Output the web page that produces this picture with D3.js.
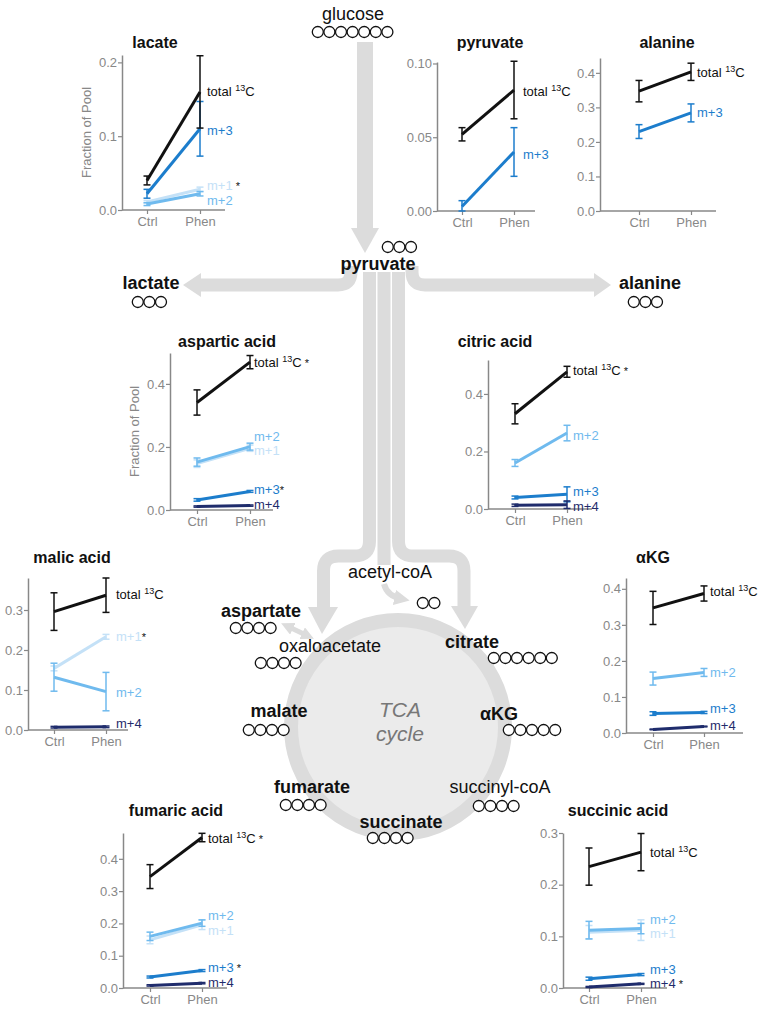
<!DOCTYPE html>
<html>
<head>
<meta charset="utf-8">
<script src="https://cdn.jsdelivr.net/npm/d3@7"></script>
<style>
  body { margin: 0; background: #fff; }
  text { font-family: "Liberation Sans", Arial, Helvetica, sans-serif; }
</style>
</head>
<body>
<div id="figure"></div>
<script>
// groups and series
const groups = ["Ctrl", "Phen"];
const seriesOrder = ["m+1", "m+2", "m+3", "m+4", "total"];
const seriesColors = { "total": "#111111", "m+1": "#c4e1f7", "m+2": "#6fbaee", "m+3": "#1c7dcc", "m+4": "#1f2c6c" };

// rows: [series, Ctrl mean, Ctrl err, Phen mean, Phen err, label value, star]
const lacate = [
  ["total", 0.040, 0.006, 0.160, 0.049, 0.161, ""],
  ["m+3", 0.022, 0.006, 0.110, 0.037, 0.108, ""],
  ["m+1", 0.011, 0.002, 0.028, 0.003, 0.033, " *"],
  ["m+2", 0.008, 0.002, 0.022, 0.003, 0.0135, ""]
];
const pyruvate = [
  ["total", 0.052, 0.0045, 0.082, 0.0195, 0.081, ""],
  ["m+3", 0.003, 0.004, 0.040, 0.0165, 0.038, ""]
];
const alanine = [
  ["total", 0.347, 0.031, 0.403, 0.025, 0.402, ""],
  ["m+3", 0.230, 0.020, 0.284, 0.026, 0.284, ""]
];
const asparticAcid = [
  ["total", 0.341, 0.040, 0.469, 0.021, 0.467, " *"],
  ["m+2", 0.152, 0.013, 0.201, 0.011, 0.234, ""],
  ["m+1", 0.147, 0.012, 0.196, 0.010, 0.188, ""],
  ["m+3", 0.032, 0.004, 0.059, 0.003, 0.064, "*"],
  ["m+4", 0.011, 0.002, 0.014, 0.002, 0.018, ""]
];
const citricAcid = [
  ["total", 0.331, 0.035, 0.477, 0.019, 0.480, " *"],
  ["m+2", 0.160, 0.012, 0.264, 0.027, 0.257, ""],
  ["m+3", 0.040, 0.005, 0.051, 0.026, 0.060, ""],
  ["m+4", 0.013, 0.004, 0.015, 0.013, 0.010, ""]
];
const malicAcid = [
  ["total", 0.296, 0.047, 0.337, 0.043, 0.338, ""],
  ["m+1", 0.154, 0.006, 0.233, 0.006, 0.233, "*"],
  ["m+2", 0.132, 0.035, 0.096, 0.048, 0.095, ""],
  ["m+4", 0.007, 0.002, 0.008, 0.002, 0.017, ""]
];
const alphaKG = [
  ["total", 0.347, 0.046, 0.387, 0.021, 0.392, ""],
  ["m+2", 0.151, 0.018, 0.168, 0.011, 0.169, ""],
  ["m+3", 0.054, 0.005, 0.057, 0.003, 0.067, ""],
  ["m+4", 0.010, 0.001, 0.018, 0.001, 0.022, ""]
];
const fumaricAcid = [
  ["total", 0.345, 0.037, 0.466, 0.013, 0.464, " *"],
  ["m+2", 0.160, 0.013, 0.201, 0.010, 0.224, ""],
  ["m+1", 0.149, 0.012, 0.196, 0.015, 0.179, ""],
  ["m+3", 0.034, 0.003, 0.054, 0.003, 0.063, " *"],
  ["m+4", 0.008, 0.002, 0.015, 0.002, 0.018, ""]
];
const succinicAcid = [
  ["total", 0.235, 0.036, 0.263, 0.036, 0.263, ""],
  ["m+2", 0.112, 0.017, 0.115, 0.010, 0.133, ""],
  ["m+1", 0.108, 0.013, 0.112, 0.020, 0.105, ""],
  ["m+3", 0.018, 0.003, 0.026, 0.002, 0.036, ""],
  ["m+4", 0.002, 0.001, 0.008, 0.001, 0.008, " *"]
];

// metabolites on the pathway: [name, bold, label x, label baseline, carbons, carbon left x, carbon y]
const metabolites = [
  ["glucose", false, 353, 20, 7, 312, 32],
  ["pyruvate", true, 378, 270, 3, 382, 247],
  ["lactate", true, 151, 289, 3, 132, 302],
  ["alanine", true, 650, 289, 3, 628, 302],
  ["acetyl-coA", false, 390, 578, 2, 417, 603],
  ["aspartate", true, 261, 617, 4, 230, 628],
  ["oxaloacetate", false, 330, 652, 4, 255, 663],
  ["citrate", true, 472, 648, 6, 488, 658],
  ["malate", true, 279, 717, 4, 243, 730],
  ["αKG", true, 499, 720, 5, 503, 730],
  ["fumarate", true, 312, 793, 4, 280, 805],
  ["succinyl-coA", false, 500, 793, 4, 473, 806],
  ["succinate", true, 401, 828, 4, 367, 838]
];

const panels = [
  { title: "lacate", rows: lacate, ax: 122, y0: 210, yTop: 55, yMax: 0.21, ticks: [0, 0.1, 0.2], fmt: ".1f", cx: 25, px: 78, xEnd: 103, ldx: 7, tx: 155, ty: 48, ylab: true },
  { title: "pyruvate", rows: pyruvate, ax: 437, y0: 211, yTop: 62, yMax: 0.101, ticks: [0, 0.05, 0.10], fmt: ".2f", cx: 25, px: 77, xEnd: 98, ldx: 9, tx: 490, ty: 48 },
  { title: "alanine", rows: alanine, ax: 600, y0: 211, yTop: 58, yMax: 0.443, ticks: [0, 0.1, 0.2, 0.3, 0.4], fmt: ".1f", cx: 39, px: 91, xEnd: 116, ldx: 6, tx: 667, ty: 48 },
  { title: "aspartic acid", rows: asparticAcid, ax: 170, y0: 510, yTop: 353, yMax: 0.498, ticks: [0, 0.2, 0.4], fmt: ".1f", cx: 27, px: 80, xEnd: 103, ldx: 4, tx: 227, ty: 347, ylab: true },
  { title: "citric acid", rows: citricAcid, ax: 488, y0: 509, yTop: 360, yMax: 0.518, ticks: [0, 0.2, 0.4], fmt: ".1f", cx: 27, px: 79, xEnd: 104, ldx: 6, tx: 495, ty: 347 },
  { title: "malic acid", rows: malicAcid, ax: 28, y0: 730, yTop: 578, yMax: 0.38, ticks: [0, 0.1, 0.2, 0.3], fmt: ".1f", cx: 26, px: 78, xEnd: 100, ldx: 10, tx: 72, ty: 563 },
  { title: "αKG", rows: alphaKG, ax: 626, y0: 733, yTop: 578, yMax: 0.43, ticks: [0, 0.1, 0.2, 0.3, 0.4], fmt: ".1f", cx: 27, px: 78, xEnd: 117, ldx: 6, tx: 653, ty: 563 },
  { title: "fumaric acid", rows: fumaricAcid, ax: 123, y0: 988, yTop: 833, yMax: 0.48, ticks: [0, 0.1, 0.2, 0.3, 0.4], fmt: ".1f", cx: 27, px: 79, xEnd: 104, ldx: 6, tx: 176, ty: 816 },
  { title: "succinic acid", rows: succinicAcid, ax: 563, y0: 988, yTop: 833, yMax: 0.30, ticks: [0, 0.1, 0.2, 0.3], fmt: ".1f", cx: 26, px: 78, xEnd: 104, ldx: 9, tx: 618, ty: 816 }
];

const width = 759, height = 1009;
const bandColor = "#dcdcdc";

const svg = d3.select("#figure")
  .append("svg")
  .attr("width", width)
  .attr("height", height);

svg.append("rect").attr("width", width).attr("height", height).attr("fill", "#fff");

// ---- pathway background ----
const path = svg.append("g");

// TCA cycle ring
path.append("circle")
  .attr("cx", 398).attr("cy", 727).attr("r", 107)
  .attr("fill", "#ebebeb")
  .attr("stroke", bandColor)
  .attr("stroke-width", 14);

// glucose -> pyruvate
path.append("rect").attr("x", 357).attr("y", 42).attr("width", 16).attr("height", 187).attr("fill", bandColor);
path.append("polygon").attr("points", "351,228 379,228 365,253").attr("fill", bandColor);

// branches (stroked bands) and their heads
const bands = [
  "M351,266 V272 Q351,285 338,285 H200",
  "M412,266 V272 Q412,285 425,285 H595",
  "M369.5,272 V541 Q369.5,556 354.5,556 H338.5 Q323.5,556 323.5,571 V608",
  "M384,272 V565",
  "M398.5,272 V541 Q398.5,556 413.5,556 H449 Q464,556 464,571 V607"
];
path.selectAll(".band")
  .data(bands)
  .join("path")
  .attr("class", "band")
  .attr("d", d => d)
  .attr("fill", "none")
  .attr("stroke", bandColor)
  .attr("stroke-width", 13);

const heads = [
  "201,273 201,297 183,285",
  "594,273 594,297 611,285",
  "308,607 338,607 322,634",
  "451,606 478,606 465,629"
];
path.selectAll(".head")
  .data(heads)
  .join("polygon")
  .attr("class", "head")
  .attr("points", d => d)
  .attr("fill", bandColor);

// small arrows: acetyl-coA -> circles, aspartate <-> oxaloacetate
const defs = svg.append("defs");
defs.append("marker")
  .attr("id", "tip")
  .attr("viewBox", "0 0 10 10")
  .attr("refX", 5).attr("refY", 5)
  .attr("markerWidth", 2.6).attr("markerHeight", 2.6)
  .attr("orient", "auto-start-reverse")
  .append("path")
  .attr("d", "M0,0 L10,5 L0,10 z")
  .attr("fill", bandColor);

path.append("path")
  .attr("d", "M384,584 Q387,596 402,599")
  .attr("fill", "none")
  .attr("stroke", bandColor)
  .attr("stroke-width", 6)
  .attr("marker-end", "url(#tip)");

path.append("path")
  .attr("d", "M287,626 L308,636")
  .attr("fill", "none")
  .attr("stroke", bandColor)
  .attr("stroke-width", 5)
  .attr("marker-start", "url(#tip)")
  .attr("marker-end", "url(#tip)");

// TCA cycle caption
path.append("text")
  .attr("x", 400).attr("y", 717)
  .attr("text-anchor", "middle")
  .attr("font-size", 21).attr("font-style", "italic")
  .attr("fill", "#777")
  .text("TCA");
path.append("text")
  .attr("x", 400).attr("y", 741)
  .attr("text-anchor", "middle")
  .attr("font-size", 21).attr("font-style", "italic")
  .attr("fill", "#777")
  .text("cycle");

// metabolite labels and carbon chains
metabolites.forEach(([name, bold, lx, ly, n, cx0, cy]) => {
  path.append("text")
    .attr("x", lx).attr("y", ly)
    .attr("text-anchor", "middle")
    .attr("font-size", 18)
    .attr("font-weight", bold ? "bold" : "normal")
    .attr("fill", "#111")
    .text(name);

  path.selectAll(null)
    .data(d3.range(n))
    .join("circle")
    .attr("cx", i => cx0 + 5.8 + i * 11.6)
    .attr("cy", cy)
    .attr("r", 5.5)
    .attr("fill", "#fff")
    .attr("stroke", "#111")
    .attr("stroke-width", 1.3);
});

// ---- isotopologue panels ----
function drawPanel(p) {
  const g = svg.append("g");

  const x = d3.scalePoint().domain(groups).range([p.ax + p.cx, p.ax + p.px]);
  const y = d3.scaleLinear().domain([0, p.yMax]).range([p.y0, p.yTop]);

  // y axis
  const yAxis = g.append("g")
    .attr("transform", `translate(${p.ax},0)`)
    .call(d3.axisLeft(y).tickValues(p.ticks).tickFormat(d3.format(p.fmt)).tickSize(4).tickSizeOuter(0));
  yAxis.select(".domain").attr("stroke", "#888").attr("stroke-width", 1.5);
  yAxis.selectAll(".tick line").attr("stroke", "#888").attr("stroke-width", 1.2);
  yAxis.selectAll("text").attr("font-size", 13).attr("font-family", null).attr("fill", "#888").attr("x", -5);

  // x axis
  g.append("line")
    .attr("x1", p.ax).attr("x2", p.ax + p.xEnd)
    .attr("y1", p.y0).attr("y2", p.y0)
    .attr("stroke", "#888").attr("stroke-width", 1.5);
  const xAxis = g.append("g")
    .attr("transform", `translate(0,${p.y0})`)
    .call(d3.axisBottom(x).tickSize(4));
  xAxis.select(".domain").remove();
  xAxis.selectAll(".tick line").attr("stroke", "#888").attr("stroke-width", 1.2);
  xAxis.selectAll("text").attr("font-size", 13).attr("font-family", null).attr("fill", "#888").attr("y", 7);

  if (p.ylab) {
    g.append("text")
      .attr("transform", `translate(${p.ax - 36},${(p.y0 + p.yTop) / 2}) rotate(-90)`)
      .attr("text-anchor", "middle")
      .attr("dy", "0.35em")
      .attr("font-size", 13)
      .attr("fill", "#888")
      .text("Fraction of Pool");
  }

  // title
  g.append("text")
    .attr("x", p.tx).attr("y", p.ty)
    .attr("text-anchor", "middle")
    .attr("font-size", 16).attr("font-weight", "bold")
    .attr("fill", "#111")
    .text(p.title);

  const series = p.rows
    .map(r => ({
      key: r[0],
      points: [
        { g: "Ctrl", v: r[1], e: r[2] },
        { g: "Phen", v: r[3], e: r[4] }
      ],
      labelV: r[5],
      star: r[6]
    }))
    .sort((a, b) => seriesOrder.indexOf(a.key) - seriesOrder.indexOf(b.key));

  const line = d3.line().x(d => x(d.g)).y(d => y(d.v));

  series.forEach(s => {
    const col = seriesColors[s.key];
    const sg = g.append("g");

    // error bars
    s.points.forEach(d => {
      const lo = y(Math.max(0, d.v - d.e)), hi = y(d.v + d.e), xc = x(d.g);
      sg.append("line").attr("x1", xc).attr("x2", xc).attr("y1", lo).attr("y2", hi)
        .attr("stroke", col).attr("stroke-width", 1.5);
      [lo, hi].forEach(yy => {
        sg.append("line").attr("x1", xc - 3.5).attr("x2", xc + 3.5).attr("y1", yy).attr("y2", yy)
          .attr("stroke", col).attr("stroke-width", 1.5);
      });
    });

    sg.append("path")
      .datum(s.points)
      .attr("d", line)
      .attr("fill", "none")
      .attr("stroke", col)
      .attr("stroke-width", 3);

    // label
    const t = sg.append("text")
      .attr("x", x("Phen") + p.ldx)
      .attr("y", y(s.labelV))
      .attr("dy", "0.35em")
      .attr("font-size", 13)
      .attr("fill", col);
    if (s.key === "total") {
      t.append("tspan").text("total ");
      t.append("tspan").attr("font-size", 9).attr("dy", -5).text("13");
      t.append("tspan").attr("dy", 5).text("C");
    } else {
      t.append("tspan").text(s.key);
    }
    if (s.star) {
      t.append("tspan").attr("fill", "#111").attr("font-size", 11).text(s.star);
    }
  });
}

panels.forEach(drawPanel);
</script>
</body>
</html>
